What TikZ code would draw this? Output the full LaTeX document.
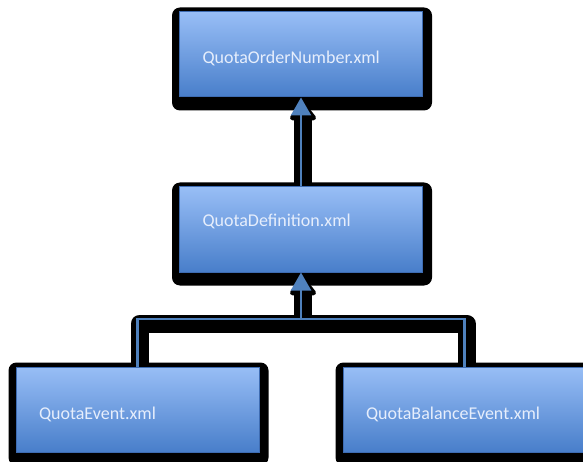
\documentclass[tikz,border=0pt]{standalone}
\usepackage{fontspec}
\setmainfont{Carlito}
\usetikzlibrary{arrows.meta,backgrounds}

\definecolor{boxtop}{RGB}{152,190,246}
\definecolor{boxbottom}{RGB}{72,126,202}
\definecolor{boxedge}{RGB}{62,108,178}
\definecolor{linkblue}{RGB}{79,129,189}
\definecolor{boxtext}{RGB}{230,238,252}

\tikzset{
    xmlfile/.style={rectangle, draw=boxedge, line width=1pt,
        top color=boxtop, bottom color=boxbottom,
        minimum width=243pt, minimum height=85pt,
        text width=197pt, align=left, inner xsep=23pt,
        text=boxtext, font=\fontsize{18}{20}\selectfont,
        text height=19pt, text depth=0pt},
    link/.style={draw=linkblue, line width=2.5pt},
    linkshadow/.style={draw=black, line width=18pt, line join=round,
        transform canvas={xshift=2pt, yshift=-4.5pt}},
}

\begin{document}
\begin{tikzpicture}[x=1pt, y=-1pt]
        \useasboundingbox (0, 0) rectangle (583, 462);

        % Nodes
        \node[xmlfile] (OrderNumber) at (301, 54.5) {QuotaOrderNumber.xml};
        \node[xmlfile, text height=12pt, text depth=18.5pt] (Definition) at (301, 229.5) {QuotaDefinition.xml};
        \node[xmlfile] (Event) at (137.5, 409.5) {QuotaEvent.xml};
        \node[xmlfile] (BalanceEvent) at (464.5, 409.5) {QuotaBalanceEvent.xml};
        \coordinate (Joint) at (301, 319);

        % Shadows
        \begin{scope}[on background layer]
            \foreach \n in {OrderNumber, Definition, Event, BalanceEvent}
                \fill[rounded corners=8pt] ([shift={(-7, -4)}]\n.north west) rectangle ([shift={(9, 13)}]\n.south east);
            \draw[linkshadow, -{Triangle[width=30pt, length=20pt, round]}] (Definition) -- (OrderNumber);
            \draw[linkshadow] (Event.north) |- (Joint) -| (BalanceEvent.north);
            \draw[linkshadow, -{Triangle[width=30pt, length=20pt, round]}] (Joint) -- (Definition.south);
        \end{scope}

        % Arrows
        \draw[link, -{Triangle[width=20pt, length=18pt]}] (Definition) -- (OrderNumber);
        \draw[link] (Event.north) |- (Joint) -| (BalanceEvent.north);
        \draw[link, -{Triangle[width=20pt, length=18pt]}] (Joint) -- (Definition.south);
    \end{tikzpicture}
\end{document}
